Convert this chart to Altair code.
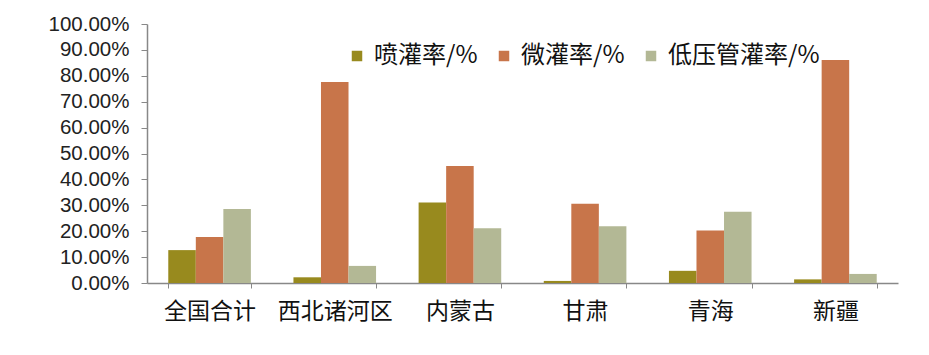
import altair as alt
import pandas as pd

regions = ["全国合计", "西北诸河区", "内蒙古", "甘肃", "青海", "新疆"]
series = ["喷灌率/%", "微灌率/%", "低压管灌率/%"]
spray = [12.7, 2.2, 31.1, 0.8, 4.7, 1.4]
micro = [17.8, 77.6, 45.2, 30.6, 20.3, 86.1]
lowpipe = [28.6, 6.6, 21.1, 21.9, 27.5, 3.5]
colors = ["#988A1E", "#C8754A", "#B3B895"]

rows = []
for i, r in enumerate(regions):
    for s, vals in zip(series, [spray, micro, lowpipe]):
        rows.append({"region": r, "series": s, "value": vals[i] / 100.0})
df = pd.DataFrame(rows)

font = "Noto Sans CJK SC"

chart = alt.Chart(df).mark_bar().encode(
    x=alt.X("region:N", sort=regions, title=None,
            scale=alt.Scale(paddingInner=0.34, paddingOuter=0.17),
            axis=alt.Axis(labelAngle=0, labelFontSize=23, labelFont=font,
                          labelColor="#111", labelPadding=12,
                          tickBand="extent", domainColor="#888", tickColor="#888",
                          tickSize=5, domainWidth=1.5)),
    xOffset=alt.XOffset("series:N", sort=series),
    y=alt.Y("value:Q", title=None,
            scale=alt.Scale(domain=[0, 1]),
            axis=alt.Axis(format=".2%", values=[i / 10 for i in range(11)],
                          labelFontSize=20.5, labelFont="Liberation Sans",
                          labelColor="#222", grid=False, domainColor="#888",
                          tickColor="#888", tickSize=6, domainWidth=1.5,
                          labelPadding=12)),
    color=alt.Color("series:N", sort=series,
                    scale=alt.Scale(domain=series, range=colors),
                    legend=alt.Legend(title=None, orient="none", direction="horizontal",
                                      legendX=198, legendY=20,
                                      symbolType="square", symbolSize=110,
                                      symbolStrokeWidth=0, labelFontSize=24,
                                      labelFont=font, labelColor="#111",
                                      columnPadding=14, labelOffset=5)),
).properties(
    width=751, height=259,
    autosize=alt.AutoSizeParams(type="none"),
    padding={"left": 147, "top": 24, "right": 31, "bottom": 72},
).configure_view(stroke=None).configure_axis(ticks=True)

chart.save("out.html", embed_options={"renderer": "svg", "actions": False})
